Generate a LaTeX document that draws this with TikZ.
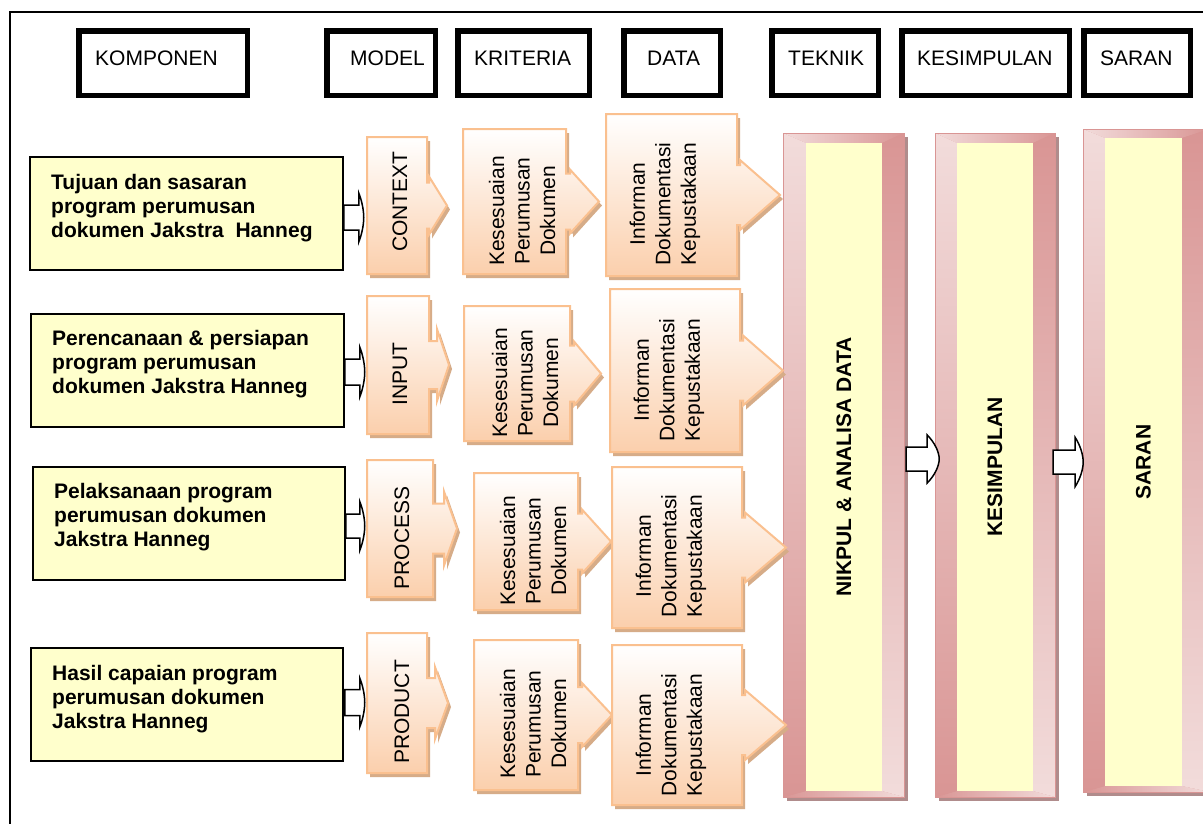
\documentclass[tikz,border=0pt]{standalone}
\usepackage{fontspec}
\setmainfont{Liberation Sans}
\usetikzlibrary{calc,shadows}
\definecolor{ylw}{HTML}{FFFFCC}
\definecolor{peach}{HTML}{FBCFAC}
\definecolor{peachline}{HTML}{FAC08F}
\definecolor{peachshadow}{HTML}{D6AC88}
\definecolor{pinkl}{HTML}{F2DCDB}
\definecolor{pinkd}{HTML}{D99594}
\definecolor{pinkshadow}{HTML}{B08C8C}
\tikzset{
  hdr/.style={draw=black, line width=5.5pt, fill=white, inner sep=0},
  hdrtext/.style={anchor=base west, inner sep=0, font=\fontsize{21}{24}\selectfont},
  ybox/.style={draw=black, line width=1.5pt, fill=ylw, inner sep=0},
  ytext/.style={anchor=north west, inner sep=0, align=left, font=\fontsize{21}{24}\selectfont\bfseries},
  rtext/.style={rotate=90, align=center, inner sep=0, font=\fontsize{21}{25.5}\selectfont},
  coltext/.style={rotate=90, inner sep=0, font=\fontsize{21}{24}\selectfont\bfseries},
  blk/.style={draw=black, line width=1.5pt, fill=white, line join=miter},
  callshape/.style={draw=peachline, line width=2pt, line join=miter, top color=white, bottom color=peach,
    drop shadow={shadow xshift=3pt, shadow yshift=-4pt, fill=peachshadow, opacity=1}},
  colbox/.style={inner sep=0, draw=none}
}
% x1 y1 x2 y2 headbase tipx h s
\newcommand{\mycallout}[8]{%
  \path[callshape] (#1,#2) -- (#3,#2) -- (#3,{(#2+#4)/2-#8}) -- (#5,{(#2+#4)/2-#8}) -- (#5,{(#2+#4)/2-#7})
    -- (#6,{(#2+#4)/2}) -- (#5,{(#2+#4)/2+#7}) -- (#5,{(#2+#4)/2+#8}) -- (#3,{(#2+#4)/2+#8}) -- (#3,#4) -- (#1,#4) -- cycle;}
% ox1 oy1 ox2 oy2 ix1 iy1 ix2 iy2
\newcommand{\mycolumn}[8]{%
  \fill[pinkshadow] ({#1+4},{#2+4}) rectangle ({#3+4},{#4+4});
  \fill[pinkd] (#1,#2) rectangle (#3,#4);
  \shade[left color=pinkl, right color=pinkd] (#1,#2) -- (#3,#2) -- (#7,#6) -- (#5,#6) -- cycle;
  \shade[left color=pinkd, right color=pinkl] (#1,#4) -- (#5,#8) -- (#7,#8) -- (#3,#4) -- cycle;
  \shade[top color=pinkl, bottom color=pinkd] (#1,#2) -- (#5,#6) -- (#5,#8) -- (#1,#4) -- cycle;
  \shade[top color=pinkd, bottom color=pinkl] (#3,#2) -- (#3,#4) -- (#7,#8) -- (#7,#6) -- cycle;
  \draw[pinkd, line width=1pt] (#1,#2) rectangle (#3,#4);
  \fill[ylw] (#5,#6) rectangle (#7,#8);}
% block arrow: start, shaft length, tip, shaft half, head half
\newcommand{\blockarrow}[5]{%
  \draw[blk, shift={(#1)}] (0,{-#4}) -- (#2,{-#4}) -- (#2,{-#5})
    .. controls ({#2+0.6*(#3-#2)},{-0.7*#5}) and (#3,{-0.3*#5}) .. (#3,0)
    .. controls (#3,{0.3*#5}) and ({#2+0.6*(#3-#2)},{0.7*#5}) .. (#2,#5)
    -- (#2,#4) -- (0,#4) -- cycle;}

\begin{document}
\begin{tikzpicture}[x=1pt,y=-1pt]
\useasboundingbox (0,0) rectangle (1203,823);
\fill[white] (0,0) rectangle (1203,823);
% outer frame
\draw[line width=1.5pt] (10,830) -- (10,12) -- (1210,12);

% headers
\node[hdr, minimum width=168.5, minimum height=64.5] (hkomp) at (163,63) {};
\node[hdr, minimum width=108.5, minimum height=64.5] (hmodel) at (381,63) {};
\node[hdr, minimum width=131.5, minimum height=64.5] (hkrit) at (523.5,63) {};
\node[hdr, minimum width=96.5, minimum height=64.5] (hdata) at (672,63) {};
\node[hdr, minimum width=106.5, minimum height=64.5] (htek) at (825,63) {};
\node[hdr, minimum width=167.5, minimum height=64.5] (hkes) at (985.5,63) {};
\node[hdr, minimum width=106.5, minimum height=64.5] (hsar) at (1137,63) {};
\node[hdrtext] (tkomp) at (95,65) {KOMPONEN};
\node[hdrtext] (tmodel) at (350,65) {MODEL};
\node[hdrtext] (tkrit) at (474,65) {KRITERIA};
\node[hdrtext] (tdata) at (647,65) {DATA};
\node[hdrtext] (ttek) at (788,65) {TEKNIK};
\node[hdrtext] (tkes) at (917,65) {KESIMPULAN};
\node[hdrtext] (tsar) at (1100,65) {SARAN};

% big columns
\mycolumn{783}{133}{904}{797}{806}{143}{882}{791}
\mycolumn{935}{133}{1055}{797}{957}{143}{1033}{791}
\mycolumn{1083}{129}{1210}{792}{1105}{138}{1182}{786}
\node[colbox, minimum width=121, minimum height=664] (c1) at (843.5,465) {};
\node[colbox, minimum width=120, minimum height=664] (c2) at (995,465) {};
\node[colbox, minimum width=120, minimum height=663] (c3) at (1143,460.5) {};
\node[coltext] (c1t) at (844,467) {NIKPUL \& ANALISA DATA};
\node[coltext] (c2t) at (995,467) {KESIMPULAN};
\node[coltext] (c3t) at (1143.5,462) {SARAN};

% yellow boxes
\node[ybox, minimum width=313, minimum height=113] (y1) at (186.5,213.5) {};
\node[ybox, minimum width=313, minimum height=113] (y2) at (187.5,370.5) {};
\node[ybox, minimum width=312, minimum height=113] (y3) at (189,523.5) {};
\node[ybox, minimum width=312, minimum height=113] (y4) at (187,704.5) {};
\node[ytext] (t1) at (51,172) {\strut Tujuan dan sasaran\\program perumusan\\dokumen Jakstra\ \ Hanneg};
\node[ytext] (t2) at (52,328) {\strut Perencanaan \& persiapan\\program perumusan\\dokumen Jakstra Hanneg};
\node[ytext] (t3) at (54,481) {\strut Pelaksanaan program\\perumusan dokumen\\Jakstra Hanneg};
\node[ytext] (t4) at (52,663) {\strut Hasil capaian program\\perumusan dokumen\\Jakstra Hanneg};

% model callouts
\mycallout{367}{137}{427}{274}{429}{447}{29}{23}
\mycallout{367}{296}{429}{434}{437}{449}{36}{24}
\mycallout{367}{460}{433}{597}{444}{457}{37}{25}
\mycallout{367}{633}{427}{773}{435}{448}{36}{25}
\node[rtext] (m1) at (400,201.5) {CONTEXT};
\node[rtext] (m2) at (400,374) {INPUT};
\node[rtext] (m3) at (402,538) {PROCESS};
\node[rtext] (m4) at (402,712) {PRODUCT};

% kriteria callouts
\mycallout{463}{129}{566}{274}{570}{599}{32}{28}
\mycallout{464}{306}{570}{441}{574}{601}{32}{28}
\mycallout{474}{473}{578}{610}{582}{611}{32}{28}
\mycallout{474}{640}{578}{790}{582}{612}{32}{28}
\node[rtext] (k1) at (522,211) {Kesesuaian\\Perumusan\\Dokumen};
\node[rtext] (k2) at (525,383) {Kesesuaian\\Perumusan\\Dokumen};
\node[rtext] (k3) at (533,551) {Kesesuaian\\Perumusan\\Dokumen};
\node[rtext] (k4) at (533,724) {Kesesuaian\\Perumusan\\Dokumen};

% data callouts
\mycallout{606}{114}{737}{276}{740}{780}{35}{30}
\mycallout{610}{289}{740}{452}{743}{783}{35}{30}
\mycallout{612}{467}{742}{628}{745}{786}{35}{30}
\mycallout{612}{645}{742}{805}{745}{786}{35}{30}
\node[rtext] (d1) at (665,204) {Informan\\Dokumentasi\\Kepustakaan};
\node[rtext] (d2) at (669,380) {Informan\\Dokumentasi\\Kepustakaan};
\node[rtext] (d3) at (671,556) {Informan\\Dokumentasi\\Kepustakaan};
\node[rtext] (d4) at (671,735) {Informan\\Dokumentasi\\Kepustakaan};

% small block arrows from components to models
\blockarrow{$(y1.east)+(0,4)$}{15}{20}{12.5}{24.5}
\blockarrow{$(y2.east)+(0,1.5)$}{15}{20}{13}{25}
\blockarrow{$(y3.east)+(0,2.5)$}{14}{19}{12}{24.5}
\blockarrow{$(y4.east)+(1,-2)$}{15}{20}{13}{24.5}

% arrows between columns
\blockarrow{$(c1.east)+(2,-6)$}{21}{33}{12}{24}
\blockarrow{$(c2.east)+(-2,-3)$}{22}{30}{12}{24.5}
\end{tikzpicture}
\end{document}
